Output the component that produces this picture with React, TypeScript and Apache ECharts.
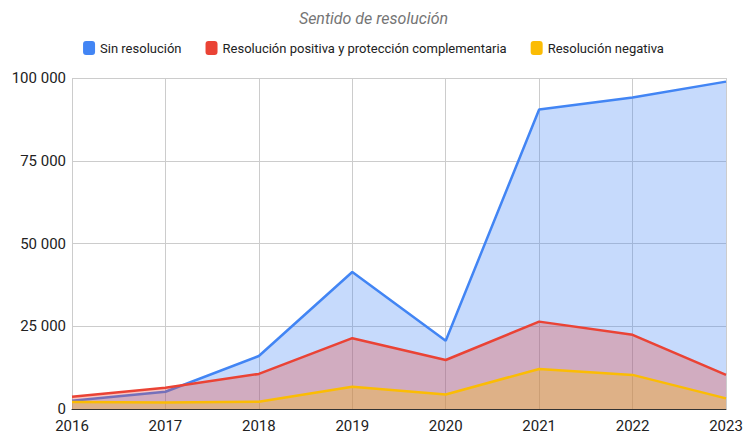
import React, { useEffect, useRef } from "react";
import * as echarts from "echarts";

const years = ["2016", "2017", "2018", "2019", "2020", "2021", "2022", "2023"];
const sinResolucion = [2500, 5200, 16000, 41400, 20600, 90500, 94100, 98900];
const positiva = [3700, 6400, 10600, 21400, 14800, 26400, 22400, 10300];
const negativa = [2100, 2000, 2200, 6700, 4400, 12100, 10300, 3200];
const seriesNames = [
  "Sin resolución",
  "Resolución positiva y protección complementaria",
  "Resolución negativa",
];
const colors = ["#4285F4", "#EA4335", "#FBBC04"];

const fmt = (v: number) =>
  String(v).replace(/\B(?=(\d{3})+(?!\d))/g, " ");

export default function App() {
  const ref = useRef<HTMLDivElement>(null);
  useEffect(() => {
    if (!ref.current) return;
    const chart = echarts.init(ref.current, undefined, { renderer: "svg" });
    const data = [sinResolucion, positiva, negativa];
    chart.setOption({
      animation: false,
      textStyle: { fontFamily: "Roboto" },
      title: {
        text: "Sentido de resolución",
        left: "center",
        top: 5,
        textStyle: {
          fontFamily: "Roboto",
          fontStyle: "italic",
          fontWeight: "normal",
          fontSize: 16,
          color: "#757575",
        },
      },
      legend: {
        top: 36,
        left: "center",
        itemWidth: 12,
        itemHeight: 14,
        itemGap: 24,
        icon: "roundRect",
        textStyle: { fontSize: 13, color: "#222", fontFamily: "Roboto" },
        data: seriesNames,
      },
      grid: { left: 72, right: 21, top: 78, bottom: 25 },
      xAxis: {
        type: "category",
        data: years,
        boundaryGap: false,
        axisLine: { lineStyle: { color: "#333", width: 1 } },
        axisTick: { show: false },
        axisLabel: { color: "#222", fontSize: 15, lineHeight: 15, margin: 9 },
        splitLine: { show: true, lineStyle: { color: "#ccc" } },
      },
      yAxis: {
        type: "value",
        min: 0,
        max: 100000,
        interval: 25000,
        axisLine: { show: false },
        axisTick: { show: false },
        axisLabel: {
          color: "#222",
          fontSize: 15,
          lineHeight: 15,
          margin: 6,
          formatter: (v: number) => fmt(v),
        },
        splitLine: { lineStyle: { color: "#ccc" } },
      },
      series: seriesNames.map((name, i) => ({
        name,
        type: "line",
        data: data[i],
        symbol: "none",
        color: colors[i],
        lineStyle: { width: 2.5, color: colors[i] },
        areaStyle: { color: colors[i], opacity: 0.3 },
        z: 2 + i,
      })),
    });
    return () => chart.dispose();
  }, []);
  return <div ref={ref} style={{ width: 747, height: 434, position: "absolute", left: 0, top: 0 }} />;
}
